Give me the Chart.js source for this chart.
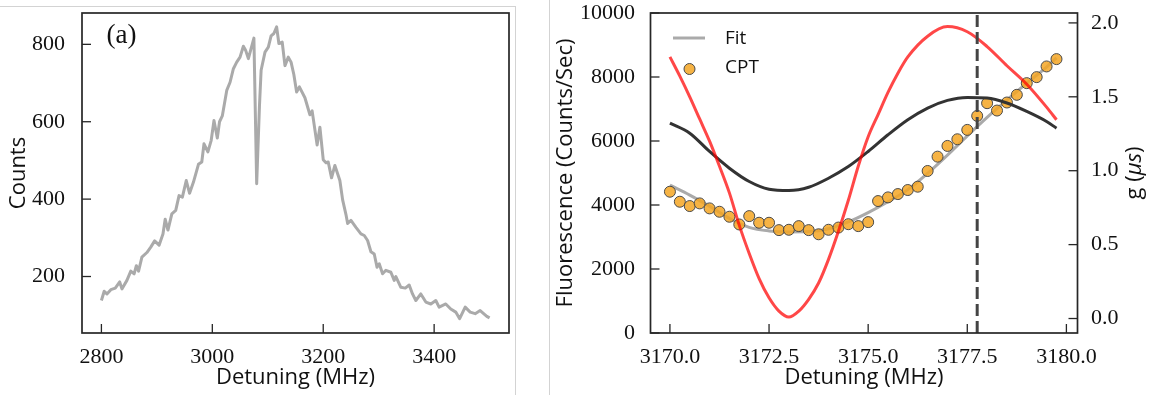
<!DOCTYPE html>
<html>
<head>
<meta charset="utf-8">
<script src="https://cdn.jsdelivr.net/npm/chart.js@4/dist/chart.umd.min.js"></script>
<style>
  body { margin: 0; width: 1151px; height: 395px; overflow: hidden; background: #fff; position: relative; }
  canvas { position: absolute; top: 0; }
  #spectrum { left: 0; }
  #cpt { left: 550px; }
  .frame { position: absolute; border: 0 solid #d3d3d3; }
  #frameA { left: -5px; top: 6px; width: 520px; height: 400px; border-top-width: 1px; border-right-width: 1px; }
  #frameB { left: 549px; top: 0; height: 395px; border-left-width: 1px; }
</style>
</head>
<body>
<canvas id="spectrum" width="515" height="395"></canvas>
<canvas id="cpt" width="601" height="395"></canvas>
<div class="frame" id="frameA"></div>
<div class="frame" id="frameB"></div>
<script>
// (a) broad scan
const specDetuning = [2800, 2805, 2810, 2817, 2825, 2833, 2837, 2846, 2853, 2859, 2863, 2867, 2873, 2882, 2889, 2896,
    2904, 2911, 2915, 2920, 2927, 2934, 2940, 2946, 2953, 2959, 2966, 2975, 2981, 2985, 2992, 2998, 3003, 3009, 3013,
    3018, 3026, 3032, 3038, 3044, 3050, 3056, 3060, 3065, 3075, 3080, 3085, 3088, 3095, 3101, 3106, 3111, 3116, 3120,
    3126, 3131, 3137, 3142, 3147, 3152, 3157, 3167, 3176, 3180, 3189, 3194, 3200, 3205, 3209, 3215, 3221, 3230, 3235,
    3241, 3244, 3250, 3259, 3268, 3274, 3280, 3286, 3292, 3297, 3301, 3307, 3313, 3322, 3328, 3331, 3340, 3348, 3355,
    3361, 3367, 3376, 3385, 3394, 3403, 3409, 3421, 3430, 3439, 3446, 3456, 3465, 3474, 3483, 3495, 3500];
const specCounts = [138, 162, 155, 166, 170, 186, 168, 190, 214, 207, 228, 214, 250, 262, 276, 292,
    281, 310, 348, 320, 362, 371, 409, 405, 448, 415, 444, 490, 496, 543, 522, 552, 603, 558, 600,
    615, 681, 702, 737, 754, 767, 795, 785, 763, 816, 440, 640, 733, 780, 793, 822, 828, 845, 802,
    806, 745, 767, 754, 722, 677, 690, 662, 618, 628, 540, 586, 502, 494, 496, 455, 487, 448, 398,
    360, 337, 345, 327, 310, 306, 293, 264, 258, 224, 233, 207, 216, 211, 190, 200, 172, 170, 178,
    155, 138, 155, 134, 129, 138, 121, 129, 116, 108, 91, 121, 108, 104, 112, 97, 93];
const specXTicks = [2800, 3000, 3200, 3400];
const specYTicks = [200, 400, 600, 800];

// (b) CPT scan, fit and g
const cptDetuning = [3170, 3170.25, 3170.5, 3170.75, 3171, 3171.25, 3171.5, 3171.75, 3172, 3172.25,
    3172.5, 3172.75, 3173, 3173.25, 3173.5, 3173.75, 3174, 3174.25, 3174.5, 3174.75,
    3175, 3175.25, 3175.5, 3175.75, 3176, 3176.25, 3176.5, 3176.75, 3177, 3177.25,
    3177.5, 3177.75, 3178, 3178.25, 3178.5, 3178.75, 3179, 3179.25, 3179.5, 3179.75];
const cptFluor = [4415, 4102, 3967, 4050, 3894, 3789, 3633, 3392, 3653, 3445,
    3445, 3215, 3226, 3340, 3215, 3085, 3226, 3295, 3400, 3340,
    3465, 4123, 4238, 4342, 4468, 4572, 5063, 5511, 5846, 6054,
    6347, 6785, 7182, 6952, 7203, 7443, 7808, 7996, 8330, 8559];

const fitDetuning = [3170, 3170.5, 3171, 3171.5, 3172, 3172.5, 3173, 3173.5, 3174, 3174.5, 3175,
    3175.5, 3176, 3176.5, 3177, 3177.5, 3178, 3178.5, 3179, 3179.5, 3179.75];
const fitFluor = [4620, 4310, 3960, 3580, 3300, 3190, 3160, 3170, 3260, 3470, 3760,
    4100, 4480, 4990, 5560, 6160, 6740, 7280, 7810, 8310, 8600];

const gRedDetuning = [3170, 3170.25, 3170.5, 3170.75, 3171, 3171.25, 3171.5, 3171.75, 3172, 3172.25,
    3172.5, 3172.75, 3173, 3173.25, 3173.5, 3173.75, 3174, 3174.25, 3174.5, 3174.75,
    3175, 3175.25, 3175.5, 3175.75, 3176, 3176.5, 3177, 3177.5, 3178, 3178.5, 3179, 3179.5, 3179.75];
const gRed = [1.77, 1.64, 1.50, 1.35, 1.20, 1.03, 0.85, 0.63, 0.44, 0.27,
    0.14, 0.05, 0.01, 0.05, 0.13, 0.24, 0.40, 0.59, 0.80, 1.03,
    1.23, 1.38, 1.53, 1.66, 1.77, 1.91, 1.975, 1.94, 1.84, 1.71, 1.585, 1.43, 1.345];

const gDarkDetuning = [3170, 3170.5, 3171, 3171.5, 3172, 3172.5, 3173, 3173.5, 3174, 3174.5, 3175,
    3175.5, 3176, 3176.5, 3177, 3177.5, 3178, 3178.5, 3179, 3179.5, 3179.75];
const gDark = [1.322, 1.254, 1.13, 1.017, 0.927, 0.875, 0.866, 0.888, 0.949, 1.028, 1.13,
    1.243, 1.345, 1.424, 1.476, 1.496, 1.492, 1.458, 1.401, 1.333, 1.288];

const markerDetuning = 3177.75;

const cptXTicks = [3170, 3172.5, 3175, 3177.5, 3180];
const fluorTicks = [0, 2000, 4000, 6000, 8000, 10000];
const gTicks = [0, 0.5, 1, 1.5, 2];

const G_MIN = -0.098;
const G_MAX = 2.067;

const SERIF = '"Liberation Serif", "Times New Roman", serif';
const SANS = '"Open Sans", sans-serif';
const tickFont = { family: SERIF, size: 22 };
const titleFont = { family: SANS, size: 22 };

const pts = (xs, ys) => xs.map((x, i) => ({ x, y: ys[i] }));

// fixed axis box size + explicit tick list
function axis(size, ticks, fmt, pad, extra) {
    return Object.assign({
        type: 'linear',
        grid: { display: false },
        border: { display: false },
        ticks: { font: tickFont, color: '#111', autoSkip: false, maxRotation: 0, minRotation: 0, padding: pad, callback: fmt },
        afterBuildTicks(scale) {
            scale.ticks = ticks.map(v => ({ value: v }));
        },
        afterFit(scale) {
            if (scale.isHorizontal()) scale.height = size;
            else scale.width = size;
            scale.paddingLeft = scale.paddingRight = scale.paddingTop = scale.paddingBottom = 0;
        }
    }, extra);
}

// box around the plot area, ticks pointing inwards
const axisFrame = {
    id: 'axisFrame',
    afterDraw(chart) {
        const { ctx, chartArea: a } = chart;
        ctx.save();
        ctx.strokeStyle = '#262626';
        ctx.lineWidth = 1.3;
        Object.values(chart.scales).forEach(scale => {
            scale.ticks.forEach(t => {
                const p = scale.getPixelForValue(t.value);
                ctx.beginPath();
                if (scale.isHorizontal()) {
                    ctx.moveTo(p, a.bottom);
                    ctx.lineTo(p, a.bottom - 9);
                } else if (scale.position === 'left') {
                    ctx.moveTo(a.left, p);
                    ctx.lineTo(a.left + 9, p);
                } else {
                    ctx.moveTo(a.right, p);
                    ctx.lineTo(a.right - 9, p);
                }
                ctx.stroke();
            });
        });
        ctx.lineWidth = 1.7;
        ctx.strokeRect(a.left, a.top, a.right - a.left, a.bottom - a.top);
        ctx.restore();
    }
};

const panelLabel = {
    id: 'panelLabel',
    afterDraw(chart) {
        const { ctx, chartArea: a } = chart;
        ctx.save();
        ctx.fillStyle = '#111';
        ctx.font = '27px ' + SERIF;
        ctx.textBaseline = 'alphabetic';
        ctx.fillText('(a)', a.left + 24.5, a.top + 30);
        ctx.restore();
    }
};

// legend for fit + CPT, and the rotated g title on the right axis
const cptExtras = {
    id: 'cptExtras',
    afterDraw(chart) {
        const { ctx, chartArea: a } = chart;
        const fit = chart.data.datasets.find(d => d.label === 'Fit');
        const cpt = chart.data.datasets.find(d => d.label === 'CPT');
        ctx.save();
        ctx.font = '19px ' + SANS;
        ctx.fillStyle = '#111';
        ctx.textBaseline = 'middle';

        ctx.strokeStyle = fit.borderColor;
        ctx.lineWidth = fit.borderWidth;
        ctx.beginPath();
        ctx.moveTo(a.left + 22.5, a.top + 25);
        ctx.lineTo(a.left + 54.5, a.top + 25);
        ctx.stroke();
        ctx.fillText(fit.label, a.left + 74.5, a.top + 26);

        ctx.beginPath();
        ctx.arc(a.left + 39, a.top + 56, cpt.pointRadius, 0, Math.PI * 2);
        ctx.fillStyle = cpt.pointBackgroundColor;
        ctx.fill();
        ctx.strokeStyle = cpt.pointBorderColor;
        ctx.lineWidth = cpt.pointBorderWidth;
        ctx.stroke();
        ctx.fillStyle = '#111';
        ctx.fillText(cpt.label, a.left + 74.5, a.top + 55);

        // g (μs), read bottom to top
        const parts = [['g (', '22px ' + SANS], ['μs', 'italic 22px ' + SANS], [')', '22px ' + SANS]];
        const widths = parts.map(([t, f]) => { ctx.font = f; return ctx.measureText(t).width; });
        const total = widths.reduce((s, w) => s + w, 0);
        ctx.translate(a.right + 57.5, (a.top + a.bottom) / 2);
        ctx.rotate(-Math.PI / 2);
        let x = -total / 2;
        parts.forEach(([t, f], i) => {
            ctx.font = f;
            ctx.fillText(t, x, 0);
            x += widths[i];
        });
        ctx.restore();
    }
};

new Chart(document.getElementById('spectrum'), {
    type: 'line',
    data: {
        datasets: [{
            label: 'Counts',
            data: pts(specDetuning, specCounts),
            borderColor: '#aaaaaa',
            borderWidth: 3,
            borderJoinStyle: 'round',
            pointRadius: 0,
            tension: 0
        }]
    },
    options: {
        responsive: false,
        animation: false,
        devicePixelRatio: 1,
        layout: { padding: { left: 0, top: 13, right: 6, bottom: 0 } },
        plugins: { legend: { display: false }, tooltip: { enabled: false } },
        scales: {
            x: axis(62, specXTicks, v => String(v), 3, {
                position: 'bottom', min: 2765, max: 3535,
                title: { display: true, text: 'Detuning (MHz)', font: titleFont, color: '#111', padding: { top: 0, bottom: 4 } }
            }),
            y: axis(82, specYTicks, v => String(v), 9, {
                position: 'left', min: 54, max: 881,
                title: { display: true, text: 'Counts', font: titleFont, color: '#111', padding: { top: 6, bottom: 0 } }
            })
        }
    },
    plugins: [axisFrame, panelLabel]
});

new Chart(document.getElementById('cpt'), {
    type: 'line',
    data: {
        datasets: [
            {
                label: 'marker',
                data: [{ x: markerDetuning, y: G_MIN }, { x: markerDetuning, y: G_MAX }],
                yAxisID: 'g',
                borderColor: '#444444',
                borderWidth: 3,
                borderDash: [12, 5],
                pointRadius: 0,
                order: 0
            },
            {
                label: 'g',
                data: pts(gRedDetuning, gRed),
                yAxisID: 'g',
                borderColor: 'rgba(255, 0, 0, 0.72)',
                borderWidth: 3,
                pointRadius: 0,
                cubicInterpolationMode: 'monotone',
                order: 1
            },
            {
                label: 'g dark',
                data: pts(gDarkDetuning, gDark),
                yAxisID: 'g',
                borderColor: '#333333',
                borderWidth: 3,
                pointRadius: 0,
                cubicInterpolationMode: 'monotone',
                order: 2
            },
            {
                label: 'CPT',
                data: pts(cptDetuning, cptFluor),
                yAxisID: 'y',
                showLine: false,
                pointRadius: 5.5,
                pointBackgroundColor: 'rgba(245, 166, 35, 0.85)',
                pointBorderColor: '#4a4a4a',
                pointBorderWidth: 1,
                order: 3
            },
            {
                label: 'Fit',
                data: pts(fitDetuning, fitFluor),
                yAxisID: 'y',
                borderColor: '#aaaaaa',
                borderWidth: 3,
                pointRadius: 0,
                cubicInterpolationMode: 'monotone',
                order: 4
            }
        ]
    },
    options: {
        responsive: false,
        animation: false,
        devicePixelRatio: 1,
        layout: { padding: { left: 0, top: 13, right: 0, bottom: 0 } },
        plugins: { legend: { display: false }, tooltip: { enabled: false } },
        scales: {
            x: axis(62, cptXTicks, v => v.toFixed(1), 3, {
                position: 'bottom', min: 3169.51, max: 3180.28,
                title: { display: true, text: 'Detuning (MHz)', font: titleFont, color: '#111', padding: { top: 0, bottom: 4 } }
            }),
            y: axis(100.5, fluorTicks, v => String(v), 7.5, {
                position: 'left', min: 0, max: 10000,
                title: { display: true, text: 'Fluorescence (Counts/Sec)', font: titleFont, color: '#111', padding: { top: 3, bottom: 0 } }
            }),
            g: axis(73.5, gTicks, v => v.toFixed(1), 5.5, {
                position: 'right', min: G_MIN, max: G_MAX
            })
        }
    },
    plugins: [axisFrame, cptExtras]
});
</script>
</body>
</html>
